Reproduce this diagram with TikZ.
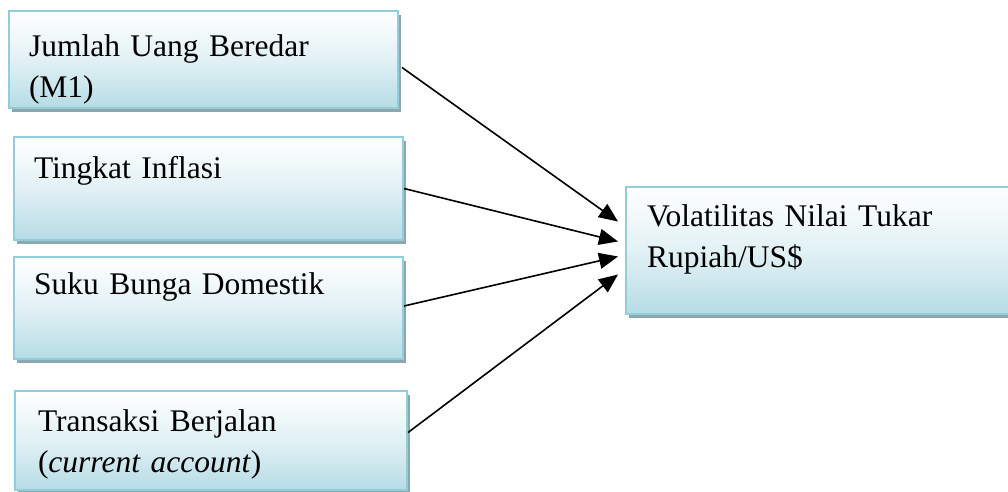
\documentclass[tikz,border=0pt]{standalone}
\usepackage{fontspec}
\setmainfont{Liberation Serif}
\usetikzlibrary{arrows.meta,positioning,shadows}

\definecolor{boxline}{HTML}{92CDDC}
\definecolor{boxfill}{HTML}{B6DCE5}
\definecolor{boxshadow}{HTML}{8DA7AD}

\begin{document}
\begin{tikzpicture}[
    x=1pt, y=-1pt,
    var/.style={draw=boxline, line width=2pt, anchor=north west,
        top color=white, bottom color=boxfill, middle color=boxfill!40,
        drop shadow={shadow xshift=3pt, shadow yshift=-3.5pt, fill=boxshadow, opacity=1},
        inner xsep=20pt, inner ysep=0pt, text width=349pt, align=left,
        font=\fontsize{31.5}{41}\selectfont},
    arrow/.style={-{Triangle[length=19pt,width=16pt]}, line width=1.6pt}
]
\useasboundingbox (0,0) rectangle (1008,491);

\node[var, text height=45pt, text depth=52pt] (m1) at (8,10) {Jumlah Uang Beredar\\(M1)};
\node[var, text height=41pt, text depth=62pt] (inflasi) at (13,136) {Tingkat Inflasi};
\node[var, text height=37pt, text depth=65pt] (bunga) at (13,256) {Suku Bunga Domestik};
\node[var, text height=40pt, text depth=59pt, inner xsep=23pt, text width=346pt] (ca) at (14,390) {Transaksi Berjalan\\(\textit{current account})};

\node[var, text height=39pt, text depth=88pt, inner xsep=21pt, text width=364pt] (kurs) at (625,186) {Volatilitas Nilai Tukar\\Rupiah/US\$};

\draw[arrow] ([xshift=3pt, yshift=-8pt]m1.east) -- ([xshift=-7pt, yshift=29pt]kurs.west);
\draw[arrow] (inflasi.east) -- ([xshift=-7pt, yshift=9pt]kurs.west);
\draw[arrow] ([yshift=2pt]bunga.east) -- ([xshift=-7pt, yshift=-6pt]kurs.west);
\draw[arrow] ([yshift=8pt]ca.east) -- ([xshift=-7pt, yshift=-24pt]kurs.west);

\end{tikzpicture}
\end{document}
